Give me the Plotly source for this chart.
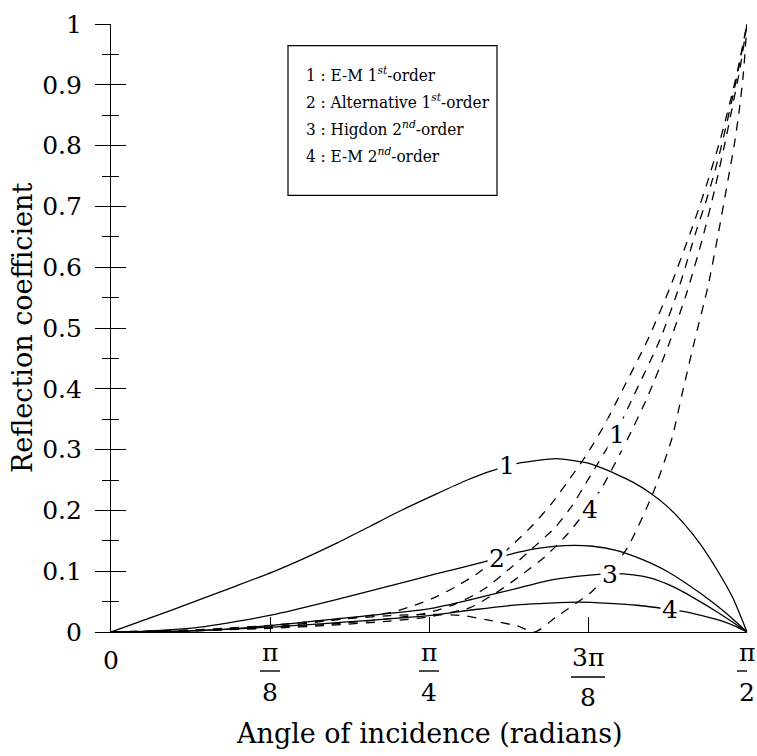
import numpy as np
import plotly.graph_objects as go

PI = np.pi

# ---------------- data (angle in radians, reflection coefficient) ----------------
# solid curves
s1_x = [0, 0.150, 0.310, 0.400, 0.480, 0.560, 0.640, 0.720, 0.800, 0.880, 0.940, 1.010, 1.100, 1.176, 1.250, 1.290, 1.331, 1.373, 1.413, 1.455, 1.497, 1.536, 1.5708]
s1_y = [0, 0.036, 0.076, 0.099, 0.122, 0.147, 0.174, 0.201, 0.226, 0.250, 0.265, 0.278, 0.285, 0.278, 0.259, 0.246, 0.229, 0.207, 0.180, 0.145, 0.102, 0.056, 0]

s2_x = [0, 0.100, 0.232, 0.398, 0.561, 0.684, 0.800, 0.919, 0.981, 1.050, 1.120, 1.190, 1.250, 1.310, 1.373, 1.455, 1.521, 1.5708]
s2_y = [0, 0.002, 0.009, 0.028, 0.054, 0.075, 0.095, 0.115, 0.127, 0.137, 0.142, 0.141, 0.134, 0.120, 0.100, 0.064, 0.030, 0]

s3_x = [0, 0.150, 0.314, 0.561, 0.785, 0.894, 1.010, 1.092, 1.176, 1.240, 1.290, 1.331, 1.373, 1.413, 1.455, 1.497, 1.536, 1.5708]
s3_y = [0, 0.001, 0.006, 0.022, 0.038, 0.054, 0.073, 0.086, 0.093, 0.096, 0.094, 0.089, 0.079, 0.066, 0.050, 0.033, 0.016, 0]

s4_x = [0, 0.200, 0.393, 0.785, 0.900, 1.010, 1.158, 1.299, 1.381, 1.413, 1.460, 1.504, 1.540, 1.5708]
s4_y = [0, 0.002, 0.008, 0.027, 0.037, 0.045, 0.049, 0.044, 0.037, 0.034, 0.027, 0.019, 0.010, 0]

# dashed curves
d2_x = [0, 0.146, 0.393, 0.541, 0.689, 0.750, 0.800, 0.850, 0.900, 0.936, 0.986, 1.042, 1.089, 1.129, 1.176, 1.220, 1.257, 1.326, 1.381, 1.430, 1.455, 1.475, 1.497, 1.515, 1.534, 1.549, 1.5708]
d2_y = [0, 0.002, 0.008, 0.019, 0.032, 0.044, 0.057, 0.074, 0.094, 0.112, 0.140, 0.176, 0.212, 0.248, 0.293, 0.342, 0.390, 0.481, 0.567, 0.655, 0.703, 0.744, 0.792, 0.835, 0.885, 0.928, 1.0]

d1_x = [0, 0.150, 0.393, 0.541, 0.689, 0.785, 0.850, 0.900, 0.929, 0.986, 1.040, 1.097, 1.139, 1.183, 1.245, 1.292, 1.356, 1.403, 1.447, 1.468, 1.488, 1.506, 1.522, 1.537, 1.551, 1.5708]
d1_y = [0, 0.002, 0.007, 0.013, 0.022, 0.032, 0.046, 0.062, 0.074, 0.105, 0.137, 0.172, 0.208, 0.256, 0.325, 0.390, 0.481, 0.567, 0.663, 0.705, 0.750, 0.795, 0.840, 0.885, 0.930, 1.0]

d4_x = [0, 0.150, 0.393, 0.541, 0.689, 0.785, 0.887, 0.950, 1.010, 1.072, 1.126, 1.173, 1.213, 1.274, 1.324, 1.376, 1.423, 1.462, 1.490, 1.515, 1.535, 1.553, 1.5708]
d4_y = [0, 0.001, 0.006, 0.011, 0.018, 0.025, 0.040, 0.064, 0.092, 0.124, 0.160, 0.199, 0.238, 0.315, 0.385, 0.470, 0.560, 0.650, 0.725, 0.800, 0.865, 0.925, 1.0]

d3_x = [0, 0.200, 0.393, 0.550, 0.689, 0.785, 0.869, 0.929, 1.003, 1.047, 1.100, 1.190, 1.274, 1.339, 1.386, 1.410, 1.442, 1.474, 1.499, 1.524, 1.539, 1.552, 1.562, 1.5708]
d3_y = [0, 0.003, 0.011, 0.020, 0.027, 0.029, 0.027, 0.020, 0.010, 0.000, 0.025, 0.068, 0.137, 0.229, 0.320, 0.390, 0.481, 0.567, 0.652, 0.744, 0.800, 0.860, 0.920, 1.0]

# curve labels: text, angle, value
lab_text = ["1", "2", "3", "4", "1", "4"]
lab_x = [0.978, 0.953, 1.232, 1.381, 1.250, 1.183]
lab_y = [0.274, 0.121, 0.095, 0.037, 0.325, 0.201]

# axis ticks
y_ticks = [0, 0.1, 0.2, 0.3, 0.4, 0.5, 0.6, 0.7, 0.8, 0.9, 1]
y_ticktext = ["0", "0.1", "0.2", "0.3", "0.4", "0.5", "0.6", "0.7", "0.8", "0.9", "1"]
y_minor = [0.05, 0.15, 0.25, 0.35, 0.45, 0.55, 0.65, 0.75, 0.85, 0.95]
x_ticks = [0, PI / 8, PI / 4, 3 * PI / 8, PI / 2]
x_num = ["0", "π", "π", "3π", "π"]
x_den = ["", "8", "4", "8", "2"]

legend_lines = [
    "1 : E-M 1<sup><i>st</i></sup>-order",
    "2 : Alternative 1<sup><i>st</i></sup>-order",
    "3 : Higdon 2<sup><i>nd</i></sup>-order",
    "4 : E-M 2<sup><i>nd</i></sup>-order",
]

# ---------------- figure ----------------
FONT = "DejaVu Serif"
LEG_FONT = "DejaVu Serif Condensed, DejaVu Serif"
TICK = 25
TITLE = 27
W, H = 757, 756
L, R, T, B = 111, 10, 11, 124
PW, PH = W - L - R, H - T - B


def px2paper_x(px):
    return (px - L) / PW


def py2paper_y(py):
    return (H - B - py) / PH


fig = go.Figure()
solid_style = dict(color="black", width=1.3, shape="spline", smoothing=0.6)
dash_style = dict(color="black", width=1.3, shape="spline", smoothing=0.6, dash="9px,8px")

for xs, ys in [(s1_x, s1_y), (s2_x, s2_y), (s3_x, s3_y), (s4_x, s4_y)]:
    fig.add_trace(go.Scatter(x=xs, y=ys, mode="lines", line=solid_style, hoverinfo="skip"))
for xs, ys in [(d1_x, d1_y), (d2_x, d2_y), (d3_x, d3_y), (d4_x, d4_y)]:
    fig.add_trace(go.Scatter(x=xs, y=ys, mode="lines", line=dash_style, hoverinfo="skip"))

# invisible trace carrying the mirrored (inside) y ticks
fig.add_trace(go.Scatter(x=[0], y=[0], mode="lines", yaxis="y2", hoverinfo="skip",
                         line=dict(color="rgba(0,0,0,0)")))

annotations = []
for t, x, y in zip(lab_text, lab_x, lab_y):
    annotations.append(dict(x=x, y=y, xref="x", yref="y", text=t, showarrow=False,
                            font=dict(family=FONT, size=TICK, color="black"),
                            bgcolor="white", borderpad=1, xanchor="center", yanchor="middle"))

# x tick labels as fractions
for v, num, den in zip(x_ticks, x_num, x_den):
    if den == "":
        annotations.append(dict(x=v, y=0, xref="x", yref="paper", text=num, showarrow=False,
                                font=dict(family=FONT, size=TICK, color="black"),
                                xanchor="center", yanchor="middle", yshift=-28))
        continue
    extra = 5 if len(num) > 1 else 0
    annotations.append(dict(x=v, y=0, xref="x", yref="paper", text=num, showarrow=False,
                            font=dict(family=FONT, size=TICK, color="black"),
                            xanchor="center", yanchor="middle", yshift=-20 - extra))
    annotations.append(dict(x=v, y=0, xref="x", yref="paper", text=den, showarrow=False,
                            font=dict(family=FONT, size=TICK, color="black"),
                            xanchor="center", yanchor="middle", yshift=-60 - extra))

# axis titles
annotations.append(dict(x=0.5, y=0, xref="paper", yref="paper", text="Angle of incidence (radians)",
                        showarrow=False, font=dict(family=FONT, size=TITLE, color="black"),
                        xanchor="center", yanchor="middle", yshift=-(733 - (H - B))))
annotations.append(dict(x=0, y=0.5, xref="paper", yref="paper", text="Reflection coefficient",
                        showarrow=False, font=dict(family=FONT, size=TITLE, color="black"),
                        textangle=-90, xanchor="center", yanchor="middle", xshift=-(L - 22)))

# legend text
leg_y = [62, 90, 117, 145]
for txt, py in zip(legend_lines, leg_y):
    annotations.append(dict(x=px2paper_x(304), y=py2paper_y(py), xref="paper", yref="paper",
                            text=txt, showarrow=False, font=dict(family=LEG_FONT, size=17, color="black"),
                            xanchor="left", yanchor="middle"))

shapes = []
# fraction bars
for v, num, den in zip(x_ticks, x_num, x_den):
    if den == "":
        continue
    extra = 6 if len(num) > 1 else 0
    hw = 17 if len(num) > 1 else 10
    shapes.append(dict(type="line", xref="x", yref="paper", xsizemode="pixel", ysizemode="pixel",
                       xanchor=v, yanchor=0, x0=-hw, x1=hw, y0=-39 - extra, y1=-39 - extra,
                       line=dict(color="black", width=1.4)))
# legend box
shapes.append(dict(type="rect", xref="paper", yref="paper",
                   x0=px2paper_x(288), x1=px2paper_x(497), y0=py2paper_y(186), y1=py2paper_y(33),
                   line=dict(color="black", width=1.2), fillcolor="white", layer="above"))

fig.update_layout(
    width=W, height=H,
    margin=dict(l=L, r=R, t=T, b=B, pad=0),
    paper_bgcolor="white", plot_bgcolor="white",
    showlegend=False,
    font=dict(family=FONT, size=TICK, color="black"),
    xaxis=dict(range=[0, PI / 2], showgrid=False, zeroline=False, showline=True,
               linecolor="black", linewidth=1.2, ticks="inside", ticklen=15, tickwidth=1.2,
               tickcolor="black", tickvals=x_ticks[1:], showticklabels=False, fixedrange=True),
    yaxis=dict(range=[0, 1], showgrid=False, zeroline=False, showline=True,
               linecolor="black", linewidth=1.2, ticks="outside", ticklen=15, tickwidth=1.2,
               tickcolor="black", tickvals=y_ticks, ticktext=y_ticktext,
               tickfont=dict(family=FONT, size=TICK, color="black"), ticklabelstandoff=8,
               ticklabeloverflow="allow",
               minor=dict(ticks="outside", ticklen=8, tickwidth=1.2, tickcolor="black", tickvals=y_minor),
               fixedrange=True),
    yaxis2=dict(range=[0, 1], overlaying="y", side="left", anchor="x", showgrid=False,
                zeroline=False, showline=False, ticks="inside", ticklen=15, tickwidth=1.2,
                tickcolor="black", tickvals=y_ticks, showticklabels=False,
                minor=dict(ticks="inside", ticklen=8, tickwidth=1.2, tickcolor="black", tickvals=y_minor),
                fixedrange=True),
    annotations=annotations,
    shapes=shapes,
)

fig.write_html("out.html")
